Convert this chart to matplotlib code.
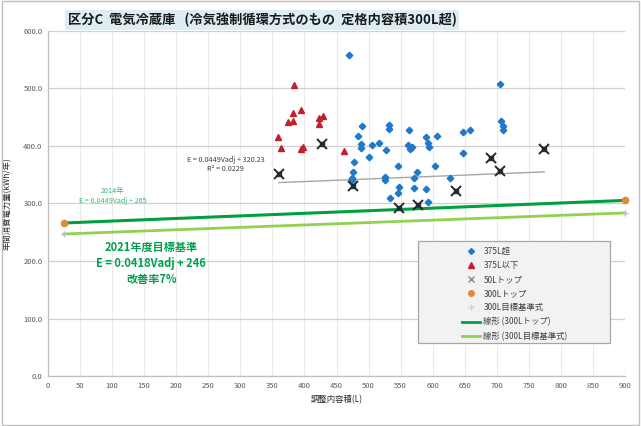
import matplotlib
matplotlib.use("Agg")
import matplotlib.pyplot as plt
import numpy as np
from matplotlib.lines import Line2D
from matplotlib.patches import Rectangle

plt.rcParams['font.family'] = ['Noto Sans CJK JP', 'DejaVu Sans']

# ---- data ----
over375_x = [469, 705, 707, 709, 710, 489, 532, 532, 563, 589, 606, 647, 658,
             484, 488, 488, 505, 516, 527, 562, 568, 564, 593, 595,
             647, 500, 477, 546, 604, 475, 575, 474, 474, 526, 526, 571, 627,
             547, 571, 589, 546, 533, 593]
over375_y = [558, 507, 443, 435, 427, 435, 437, 429, 427, 416, 418, 424, 427,
             418, 403, 397, 402, 405, 393, 401, 399, 394, 405, 399,
             387, 381, 372, 365, 365, 355, 355, 344, 340, 346, 340, 345, 345,
             328, 327, 325, 318, 309, 302]
under375_x = [384, 382, 394, 375, 382, 422, 429, 422, 359, 364, 395, 398, 461]
under375_y = [506, 457, 463, 441, 444, 449, 453, 438, 415, 396, 395, 398, 392]
top50_x = [360, 428, 476, 547, 577, 636, 691, 705, 774]
top50_y = [351, 403, 331, 292, 298, 321, 379, 357, 395]
top300_x = [25, 900]
top300_y = [266.1, 305.4]
target300_x = [25, 900]
target300_y = [247.0, 283.6]
trend50_coef = [0.0449, 320.23]

x_ticks = list(range(0, 901, 50))
y_ticks = [0, 100, 200, 300, 400, 500, 600]

W, H = 641, 426
AX_L, AX_R, AX_T, AX_B = 48, 625, 31, 376
fig = plt.figure(figsize=(W / 100, H / 100), dpi=100)
ax = fig.add_axes([AX_L / W, 1 - AX_B / H, (AX_R - AX_L) / W, (AX_B - AX_T) / H])

def fx(px):
    return (px - AX_L) / (AX_R - AX_L)

def fy(py):
    return 1 - (py - AX_T) / (AX_B - AX_T)

ax.set_xlim(0, 900)
ax.set_ylim(0, 600)
ax.set_xticks(x_ticks)
ax.set_yticks(y_ticks)
ax.set_xticklabels([str(v) for v in x_ticks], fontsize=5.5, color='#595959')
ax.set_yticklabels([f"{v:.1f}" for v in y_ticks], fontsize=5.5, color='#595959')
ax.tick_params(length=0, pad=4)
ax.grid(True, axis='y', color='#D0D0D0', lw=0.9)
ax.grid(True, axis='x', color='#EBEBEB', lw=0.8)
ax.set_axisbelow(True)
for s in ['top', 'right']:
    ax.spines[s].set_visible(False)
for s in ['left', 'bottom']:
    ax.spines[s].set_color('#BFBFBF')
    ax.spines[s].set_linewidth(0.9)

# green lines (trend lines)
c1 = np.polyfit(top300_x, top300_y, 1)
xx = np.array([min(top300_x), max(top300_x)])
ax.plot(xx, np.polyval(c1, xx), color='#00A040', lw=2.2, zorder=3)
c2 = np.polyfit(target300_x, target300_y, 1)
xx2 = np.array([min(target300_x), max(target300_x)])
ax.plot(xx2, np.polyval(c2, xx2), color='#92D050', lw=2.0, zorder=3)

# gray trend of 50L top
xt = np.array([min(top50_x), max(top50_x)])
ax.plot(xt, trend50_coef[0] * xt + trend50_coef[1], color='#A6A6A6', lw=1.0, zorder=3)

# scatter series
ax.plot(over375_x, over375_y, 'D', color='#1F78C8', ms=3.3, mec='#1F78C8', zorder=4)
ax.plot(under375_x, under375_y, '^', color='#C0202A', ms=4.5, zorder=4)
ax.plot(top50_x, top50_y, 's', color='#1F3864', ms=3.5, zorder=5)
ax.plot(top50_x, top50_y, 'x', color='#262626', ms=7, mew=1.4, zorder=6)
ax.plot(top300_x, top300_y, 'o', color='#E08A3C', ms=4.5, zorder=6, clip_on=False)
ax.plot(target300_x, target300_y, '+', color='#BFBFBF', ms=5, mew=1, zorder=6, clip_on=False)

# annotations
ax.text(277, 368, "E = 0.0449Vadj + 320.23\nR² = 0.0229", fontsize=5.2,
        color='#404040', ha='center', va='center', linespacing=1.3)
ax.text(101, 313, "2014年\nE = 0.0449Vadj + 265", fontsize=5.2, color='#3CB870',
        ha='center', va='center', linespacing=1.3)
ax.text(161, 196, "2021年度目標基準\nE = 0.0418Vadj + 246\n改善率7%", fontsize=8,
        color='#00A050', fontweight='bold', ha='center', va='center', linespacing=1.3)

ax.set_xlabel("調整内容積(L)", fontsize=6, color='#262626', labelpad=4)
ax.set_ylabel("年間消費電力量(kWh/年)", fontsize=6, color='#262626', labelpad=8)

# legend box
ax.add_patch(Rectangle((fx(418), fy(343)), fx(610) - fx(418), fy(241) - fy(343),
                       transform=ax.transAxes, facecolor='#F2F2F2', edgecolor='#A6A6A6',
                       lw=0.9, zorder=7))
handles = [
    Line2D([], [], ls='none', marker='D', color='#1F78C8', ms=3),
    Line2D([], [], ls='none', marker='^', color='#C0202A', ms=4),
    Line2D([], [], ls='none', marker='x', color='#8C8C8C', ms=5),
    Line2D([], [], ls='none', marker='o', color='#E08A3C', ms=4),
    Line2D([], [], ls='none', marker='+', color='#D0D0D0', ms=5),
    Line2D([], [], color='#00A040', lw=2),
    Line2D([], [], color='#92D050', lw=2),
]
labels = ["375L超", "375L以下", "50Lトップ", "300Lトップ", "300L目標基準式",
          "線形 (300Lトップ)", "線形 (300L目標基準式)"]
leg = ax.legend(handles, labels, loc='upper left',
                bbox_to_anchor=(fx(455), fy(240)),
                fontsize=6, frameon=False, handlelength=2.2, labelspacing=0.62,
                borderpad=0.3, handletextpad=0.4, labelcolor='#404040')
leg.set_zorder(8)

# title
fig.text(262 / W, 1 - 20 / H, "区分C  電気冷蔵庫   (冷気強制循環方式のもの  定格内容積300L超)",
         fontsize=9.5, fontweight='bold', ha='center', va='center', color='#1a1a1a',
         bbox=dict(facecolor='#DCEEF4', edgecolor='none', pad=2))

# figure border
fig.patches.append(Rectangle((0.003, 0.003), 0.994, 0.994, transform=fig.transFigure,
                             fill=False, edgecolor='#BFBFBF', lw=1))

fig.savefig("out.png", dpi=100)
